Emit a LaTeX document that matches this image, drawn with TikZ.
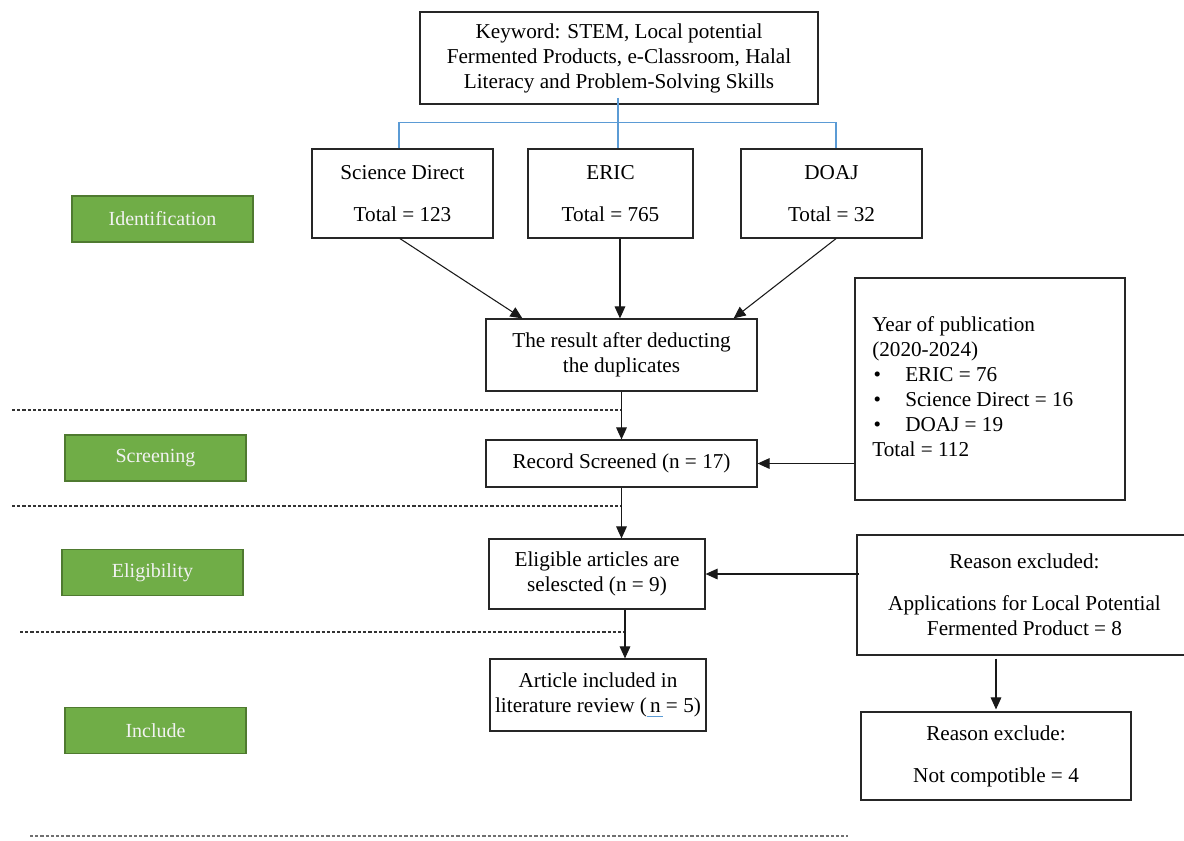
\documentclass[tikz,border=0pt]{standalone}
\usepackage{fontspec}
\setmainfont{Liberation Serif}
\usetikzlibrary{arrows.meta,calc}
\definecolor{lgreen}{HTML}{70AD47}
\definecolor{dgreen}{HTML}{4F7A30}
\definecolor{lblue}{HTML}{5B9BD5}
\definecolor{dashgray}{HTML}{333333}
\begin{document}
\begin{tikzpicture}[x=0.75pt,y=-0.75pt,
  every node/.style={font=\fontsize{15.9pt}{18.75pt}\selectfont},
  box/.style={draw=black!85,line width=0.9pt,fill=white,align=center,inner sep=0pt},
  stage/.style={draw=dgreen,line width=0.9pt,fill=lgreen,text=white!95!black,inner sep=0pt,
    minimum width=135.75pt,minimum height=34.5pt,font=\fontsize{15pt}{18pt}\selectfont},
  arr/.style={draw=black!90,line width=0.8pt,-{Triangle[length=9pt,width=8pt]}},
  blueline/.style={draw=lblue,line width=1.1pt},
  sep/.style={draw=dashgray,line width=0.8pt,dash pattern=on 2.4pt off 1.5pt}]
\useasboundingbox (0,0) rectangle (1184,840);

% top keyword box
\node[box,minimum width=298.5pt,minimum height=69pt] (kw) at (619,58)
  {Keyword: STEM, Local potential\\Fermented Products, e-Classroom, Halal\\Literacy and Problem-Solving Skills};

% databases
\node[box,minimum width=135.75pt,minimum height=66.75pt] (sd) at (402.5,193.5)
  {Science Direct\\[12.75pt]Total = 123};
\node[box,minimum width=123.75pt,minimum height=66.75pt] (eric) at (610.5,193.5)
  {ERIC\\[12.75pt]Total = 765};
\node[box,minimum width=135.75pt,minimum height=66.75pt] (doaj) at (831.5,193.5)
  {DOAJ\\[12.75pt]Total = 32};

% blue bracket
\coordinate (bj) at (618,122.7);
\draw[blueline] ([xshift=-0.75pt,yshift=5pt]kw.south) -- ([xshift=-0.75pt]kw.south |- bj);
\draw[blueline] (sd.north -| 399,0) -- (399,122.7) -- (836,122.7) -- (doaj.north -| 836,0);
\draw[blueline] (bj) -- (eric.north -| bj);

% result
\node[box,minimum width=203.25pt,minimum height=54pt] (res) at (621.5,355)
  {The result after deducting\\the duplicates};
\node[box,minimum width=203.25pt,minimum height=35.25pt] (rec) at (621.5,463.5)
  {Record Screened (n = 17)};
\node[box,minimum width=162pt,minimum height=52.5pt] (elig) at (597,574)
  {Eligible articles are\\selescted (n = 9)};
\node[box,minimum width=162pt,minimum height=54pt] (art) at (598,695)
  {Article included in\\literature review (\rlap{\textcolor{lblue}{\rule[-3.5pt]{0.75em}{0.7pt}}}\kern0.15em n = 5)};

% year box
\node[box,minimum width=202.5pt,minimum height=166.5pt] (year) at (990,389) {};
\node[anchor=west,align=left,inner sep=0pt] (yeartext) at (872,387)
  {Year of publication\\(2020-2024)\\
   \makebox[24.75pt][l]{\hspace{1pt}\textbullet}ERIC = 76\\
   \makebox[24.75pt][l]{\hspace{1pt}\textbullet}Science Direct = 16\\
   \makebox[24.75pt][l]{\hspace{1pt}\textbullet}DOAJ = 19\\
   Total = 112};

% reason boxes
\node[box,minimum width=251.25pt,minimum height=90pt] (rex) at (1024.5,595)
  {Reason excluded:\\[12.75pt]Applications for Local Potential\\Fermented Product = 8};
\node[box,minimum width=202.5pt,minimum height=66pt] (rex2) at (996,756)
  {Reason exclude:\\[12.75pt]Not compotible = 4};

% stage labels
\node[stage] (id) at (162.5,219) {Identification};
\node[stage] (scr) at (155.5,458) {Screening};
\node[stage] (eli) at (152.5,572.5) {Eligibility};
\node[stage] (inc) at (155.5,730.5) {Include};

% dashed separators
\coordinate (d1a) at (12,410);  \coordinate (d1b) at (622,410);
\coordinate (d2a) at (12,506);  \coordinate (d2b) at (622,506);
\coordinate (d3a) at (20,632);  \coordinate (d3b) at (625,632);
\coordinate (d4a) at (30,836);  \coordinate (d4b) at (848,836);
\draw[sep] (d1a) -- (d1b);
\draw[sep] (d2a) -- (d2b);
\draw[sep] (d3a) -- (d3b);
\draw[sep,draw=dashgray!70] (d4a) -- (d4b);

% arrows
\draw[arr] ([xshift=-1.9pt]sd.south) -- ([xshift=27.75pt]res.north west);
\draw[arr] ([xshift=7.1pt]eric.south) -- ([xshift=7.1pt]eric.south |- res.north);
\draw[arr] ([xshift=3.4pt]doaj.south) -- ([xshift=-18pt]res.north east);
\draw[arr] (res.south) -- (rec.north);
\draw[arr] (rec.south) -- (rec.south |- elig.north);
\draw[arr] ([xshift=21pt]elig.south) -- ([xshift=21pt]elig.south |- art.north);
\draw[arr] (rec.east -| year.west) -- (rec.east);
\draw[arr] ([xshift=2pt]elig.east -| rex.west) -- (elig.east);
\draw[arr] ([yshift=-2.25pt]rex2.north |- rex.south) -- ([yshift=1.5pt]rex2.north);
\end{tikzpicture}
\end{document}
